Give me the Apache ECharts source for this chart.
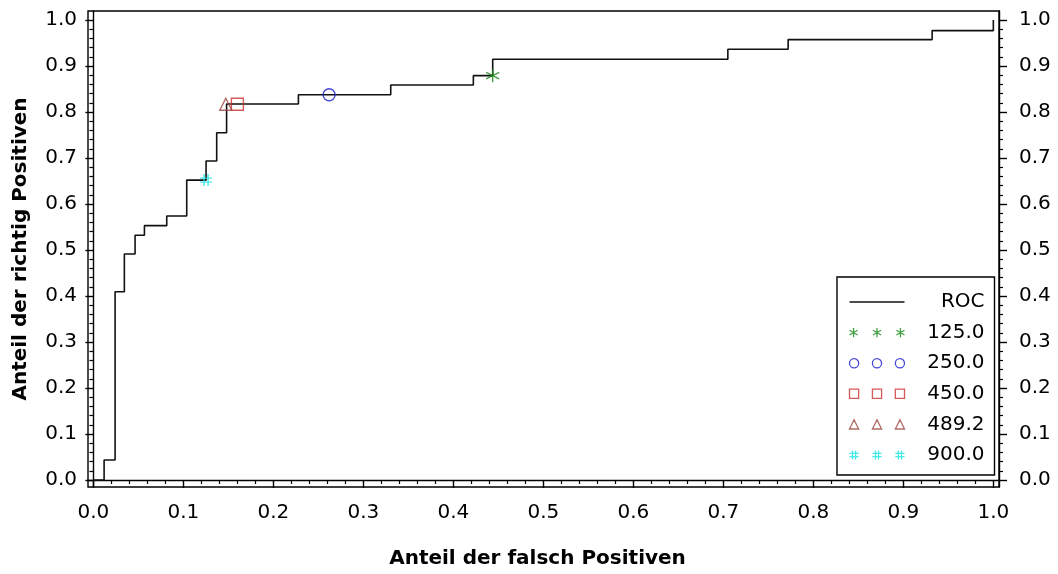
<!DOCTYPE html>
<html>
<head>
<meta charset="utf-8">
<script src="https://cdn.jsdelivr.net/npm/echarts@6/dist/echarts.min.js"></script>
<style>
  html, body { margin: 0; padding: 0; background: #fff; }
  #chart { width: 1058px; height: 574px; }
</style>
</head>
<body>
<div id="chart"></div>
<script>
// ROC-Kurve: Ecken der Treppe
var rocFpr = [0, 0.0119, 0.0241, 0.0344, 0.0463, 0.0567, 0.0815, 0.1037, 0.1252, 0.137, 0.148, 0.2278, 0.3304, 0.4222, 0.4437, 0.705, 0.772, 0.932, 1.0];
var rocTpr = [0, 0.0435, 0.4094, 0.4913, 0.532, 0.553, 0.574, 0.652, 0.6935, 0.755, 0.8174, 0.8376, 0.8587, 0.879, 0.9148, 0.9365, 0.9574, 0.977, 1.0];

// Schwellenwerte und ihre Punkte auf der Kurve
var cutNames = ['125.0', '250.0', '450.0', '489.2', '900.0'];
var cutFpr = [0.4437, 0.2619, 0.16, 0.1471, 0.1252];
var cutTpr = [0.879, 0.8376, 0.817, 0.817, 0.652];

var majorTicks = [0, 0.1, 0.2, 0.3, 0.4, 0.5, 0.6, 0.7, 0.8, 0.9, 1.0];

var minorTicks = []
for (var k = 1; k < 50; k++) {
  if (k % 5 != 0) minorTicks.push(k / 50)
}

var font = 'DejaVu Sans'
var cutColors = ['#188a18', '#1c1cd0', '#cc3030', '#9c4640', '#18e2e2']
var cutKinds = ['star', 'circle', 'square', 'triangle', 'hash']
var cutSizes = [13, 12, 12, 12, 12]

// pfad fuer ein symbol, mittelpunkt cx/cy, radius r
function shapePath(kind, cx, cy, r) {
  var h = r * 0.866
  if (kind == 'star') {
    return 'M' + cx + ',' + (cy - r) + 'L' + cx + ',' + (cy + r) +
      'M' + (cx - h) + ',' + (cy - r / 2) + 'L' + (cx + h) + ',' + (cy + r / 2) +
      'M' + (cx - h) + ',' + (cy + r / 2) + 'L' + (cx + h) + ',' + (cy - r / 2)
  }
  if (kind == 'circle') {
    return 'M' + (cx - r) + ',' + cy + 'A' + r + ',' + r + ' 0 1 0 ' + (cx + r) + ',' + cy +
      'A' + r + ',' + r + ' 0 1 0 ' + (cx - r) + ',' + cy + 'Z'
  }
  if (kind == 'square') {
    return 'M' + (cx - r) + ',' + (cy - r) + 'L' + (cx + r) + ',' + (cy - r) + 'L' + (cx + r) + ',' + (cy + r) +
      'L' + (cx - r) + ',' + (cy + r) + 'Z'
  }
  if (kind == 'triangle') {
    return 'M' + cx + ',' + (cy - r) + 'L' + (cx + r) + ',' + (cy + r) + 'L' + (cx - r) + ',' + (cy + r) + 'Z'
  }
  var a = r / 3
  return 'M' + (cx - a) + ',' + (cy - r) + 'L' + (cx - a) + ',' + (cy + r) +
    'M' + (cx + a) + ',' + (cy - r) + 'L' + (cx + a) + ',' + (cy + r) +
    'M' + (cx - r) + ',' + (cy - a) + 'L' + (cx + r) + ',' + (cy - a) +
    'M' + (cx - r) + ',' + (cy + a) + 'L' + (cx + r) + ',' + (cy + a)
}

function legendIcon(kind) {
  var p = []
  var centers = [5, 27.5, 50]
  for (var i = 0; i < centers.length; i++) p.push(shapePath(kind, centers[i], 5, 4.5))
  return 'path://' + p.join('')
}

var xMin = -0.006, xMax = 1.0063, yMin = -0.0152, yMax = 1.0196
var axisColor = '#000'
var labelStyle = { fontSize: 20, color: '#000', fontFamily: font }

function majorAxis(min, max, pos, margin, extra) {
  var ax = {
    type: 'value', min: min, max: max, position: pos,
    axisLine: { show: true, lineStyle: { color: axisColor, width: 1.4 } },
    axisTick: { show: true, customValues: majorTicks, length: 8, lineStyle: { color: axisColor, width: 1.4 } },
    axisLabel: Object.assign({ customValues: majorTicks, margin: margin, formatter: function (v) { return v.toFixed(1) } }, labelStyle),
    splitLine: { show: false }
  }
  return Object.assign(ax, extra || {})
}
function minorAxis(min, max, pos) {
  return {
    type: 'value', min: min, max: max, position: pos,
    axisLine: { show: false },
    axisTick: { show: true, customValues: minorTicks, length: 4, lineStyle: { color: axisColor, width: 1.2 } },
    axisLabel: { show: false },
    splitLine: { show: false }
  }
}

var seriesList = [{
  name: 'ROC',
  type: 'line',
  step: 'end',
  symbol: 'none',
  data: rocFpr.map(function (x, i) { return [x, rocTpr[i]] }),
  lineStyle: { color: '#111', width: 1.6 },
  z: 2
}]
var legendData = [{ name: 'ROC', itemStyle: { color: 'none', borderWidth: 0, opacity: 0 }, lineStyle: { color: '#111', width: 1.6 } }]
for (var i = 0; i < cutNames.length; i++) {
  seriesList.push({
    name: cutNames[i],
    type: 'scatter',
    data: [[cutFpr[i], cutTpr[i]]],
    symbol: 'path://' + shapePath(cutKinds[i], 5, 5, 5),
    symbolSize: cutSizes[i],
    itemStyle: { color: 'none', borderColor: cutColors[i], borderWidth: 1.4 },
    z: 3
  })
  legendData.push({
    name: cutNames[i],
    icon: legendIcon(cutKinds[i]),
    itemStyle: { color: 'none', borderColor: cutColors[i], borderWidth: 1.3 }
  })
}

var chart = echarts.init(document.getElementById('chart'), null, { renderer: 'canvas' })
var option = {
  animation: false,
  backgroundColor: '#fff',
  grid: {
    left: 88, right: 59, top: 11, bottom: 87,
    show: true, borderColor: axisColor, borderWidth: 1.4
  },
  legend: {
    orient: 'vertical',
    left: 837, top: 277,
    padding: [15, 10, 10, 10],
    itemWidth: 55, itemHeight: 10, itemGap: 10.6,
    borderColor: '#000', borderWidth: 1.4, backgroundColor: '#fff',
    selectedMode: false,
    data: legendData,
    formatter: function (n) { return '{t|' + n + '}' },
    textStyle: { rich: { t: { width: 75, align: 'right', fontSize: 20, lineHeight: 20, fontFamily: font, color: '#000' } } }
  },
  xAxis: [
    majorAxis(xMin, xMax, 'bottom', 16, {
      name: 'Anteil der falsch Positiven', nameLocation: 'middle', nameGap: 62,
      nameTextStyle: { fontSize: 20, fontWeight: 'bold', color: '#000', fontFamily: font, padding: [0, 12, 0, 0] }
    }),
    minorAxis(xMin, xMax, 'bottom')
  ],
  yAxis: [
    majorAxis(yMin, yMax, 'left', 11, {
      name: 'Anteil der richtig Positiven', nameLocation: 'middle', nameGap: 57,
      nameTextStyle: { fontSize: 20, fontWeight: 'bold', color: '#000', fontFamily: font }
    }),
    minorAxis(yMin, yMax, 'left'),
    majorAxis(yMin, yMax, 'right', 20),
    minorAxis(yMin, yMax, 'right')
  ],
  series: seriesList
}
chart.setOption(option)
window.addEventListener('resize', function () { chart.resize() })
</script>
</body>
</html>
